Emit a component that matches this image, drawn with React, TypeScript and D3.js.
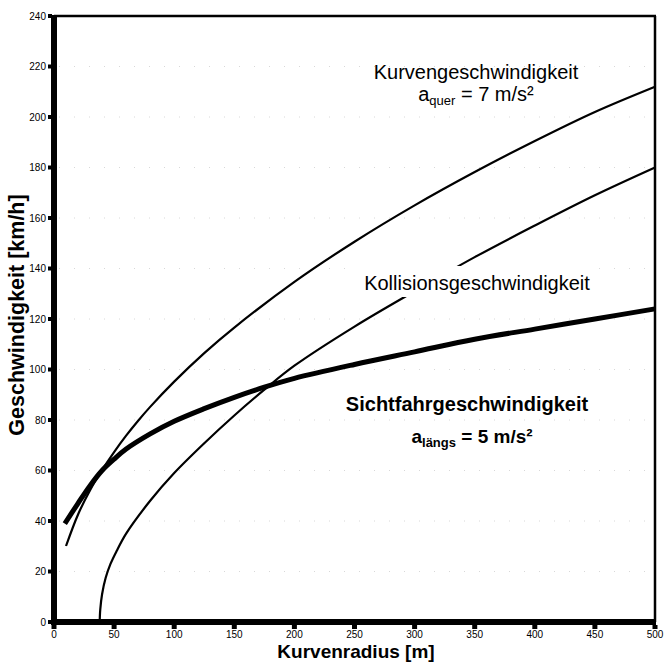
import * as d3 from "d3";

// Werte
const kurvenR = [10, 20, 30, 40, 50, 60, 70, 80, 100, 125, 150, 200, 250, 300, 350, 400, 450, 500];
const kurvenV = [30.1, 42.6, 52.2, 60.2, 67.3, 73.8, 79.7, 85.2, 95.2, 106.5, 116.6, 134.7, 150.6, 165, 178.2, 190.5, 202, 212];

const kollR = [38, 38.5, 40, 43, 47, 52, 60, 80, 100, 125, 150, 175, 200, 250, 300, 350, 400, 450, 500];
const kollV = [0, 5, 11, 17.5, 23, 28, 35, 48, 59, 70.8, 81.8, 92, 101.5, 117, 131, 144.5, 157, 169, 180];

const sichtR = [9, 20, 30, 40, 50, 60, 80, 100, 125, 150, 175, 200, 250, 300, 350, 400, 450, 500];
const sichtV = [39, 47, 54, 60, 64.5, 68.5, 74.5, 79.5, 84.5, 89, 93, 96.5, 102, 107, 112, 116, 120, 124];

const xTicks = [0, 50, 100, 150, 200, 250, 300, 350, 400, 450, 500];
const yTicks = [0, 20, 40, 60, 80, 100, 120, 140, 160, 180, 200, 220, 240];

const font = "'Liberation Sans', Arial, Helvetica, sans-serif";

export default function App() {
  const x = d3.scaleLinear().domain([0, 500]).range([54, 655]);
  const y = d3.scaleLinear().domain([0, 240]).range([622, 16]);

  const smooth = d3
    .line<[number, number]>()
    .x((d) => x(d[0]))
    .y((d) => y(d[1]))
    .curve(d3.curveCatmullRom.alpha(0.5));

  const pts = (rs: number[], vs: number[]) => rs.map((r, i) => [r, vs[i]] as [number, number]);

  return (
    <svg
      width={664}
      height={662}
      style={{ position: "absolute", left: 0, top: 0, background: "#fff" }}
      fontFamily={font}
    >
      {/* schwache Gitterpunkte */}
      {yTicks.slice(1, -1).map((t) => (
        <line
          key={"gy" + t}
          x1={x(0) + 5}
          x2={x(500) - 3}
          y1={y(t)}
          y2={y(t)}
          stroke="#d8d8d8"
          strokeWidth={1}
          strokeDasharray="1 14"
        />
      ))}

      {/* Kurven */}
      <path d={smooth(pts(kurvenR, kurvenV))!} fill="none" stroke="#000" strokeWidth={2.2} />
      <path d={smooth(pts(kollR, kollV))!} fill="none" stroke="#000" strokeWidth={2.2} />
      <path d={smooth(pts(sichtR, sichtV))!} fill="none" stroke="#000" strokeWidth={5} />

      {/* Rahmen */}
      <line x1={x(0)} x2={x(500) + 1} y1={y(240)} y2={y(240)} stroke="#000" strokeWidth={2.5} />
      <line x1={x(500)} x2={x(500)} y1={y(240)} y2={y(0)} stroke="#000" strokeWidth={2.5} />
      <line x1={x(0)} x2={x(0)} y1={y(240) - 1} y2={y(0) + 3} stroke="#000" strokeWidth={6} />
      <line x1={x(0) - 3} x2={x(500) + 1} y1={y(0)} y2={y(0)} stroke="#000" strokeWidth={6} />

      {/* y-Achse */}
      {yTicks.map((t) => (
        <g key={"y" + t}>
          <rect x={x(0) - 6} y={y(t) - 2} width={4} height={4} fill="#000" />
          <text x={x(0) - 8} y={y(t)} dy="0.35em" textAnchor="end" fontSize={10}>
            {t}
          </text>
        </g>
      ))}

      {/* x-Achse */}
      {xTicks.map((t) => (
        <g key={"x" + t}>
          <rect x={x(t) - 2.5} y={y(0) + 3} width={5} height={4} fill="#000" />
          <text x={x(t)} y={y(0) + 16} textAnchor="middle" fontSize={10}>
            {t}
          </text>
        </g>
      ))}

      <text x={356} y={658} textAnchor="middle" fontSize={19} fontWeight="bold">
        Kurvenradius [m]
      </text>
      <text
        transform={`translate(24,${(y(0) + y(240)) / 2 - 4}) rotate(-90)`}
        textAnchor="middle"
        fontSize={21.5}
        fontWeight="bold"
      >
        Geschwindigkeit [km/h]
      </text>

      {/* Beschriftungen */}
      <text x={476} y={79} textAnchor="middle" fontSize={20}>
        Kurvengeschwindigkeit
      </text>
      <text x={476} y={101} textAnchor="middle" fontSize={20}>
        a<tspan fontSize={13} dy={4}>quer</tspan>
        <tspan dy={-4}> = 7 m/s²</tspan>
      </text>

      <rect x={358} y={266} width={238} height={31} fill="#fff" />
      <text x={477} y={290} textAnchor="middle" fontSize={20}>
        Kollisionsgeschwindigkeit
      </text>

      <text x={467} y={411} textAnchor="middle" fontSize={20} fontWeight="bold">
        Sichtfahrgeschwindigkeit
      </text>
      <text x={472} y={443} textAnchor="middle" fontSize={19} fontWeight="bold">
        a<tspan fontSize={13} dy={4}>längs</tspan>
        <tspan dy={-4}> = 5 m/s²</tspan>
      </text>
    </svg>
  );
}
